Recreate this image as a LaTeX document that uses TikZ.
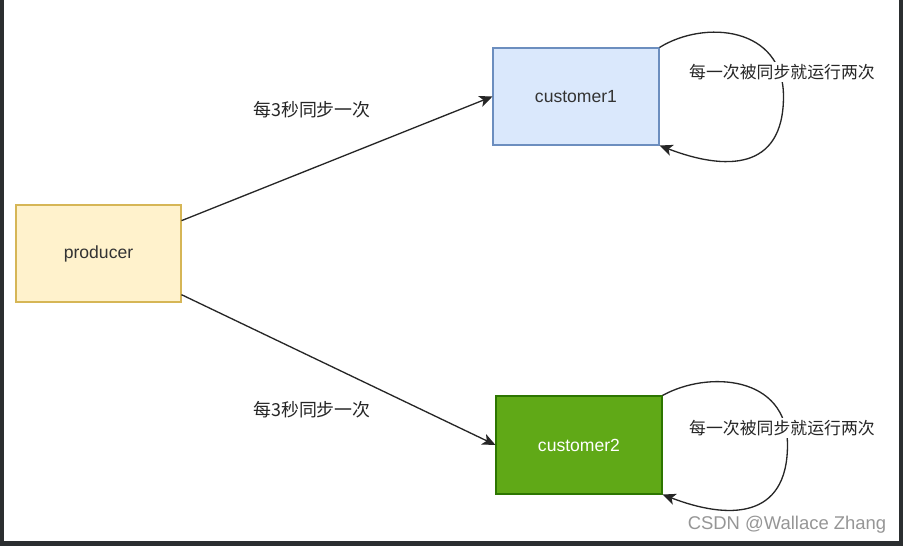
\documentclass[tikz,border=0pt]{standalone}
\usepackage{fontspec}
\setmainfont{Liberation Sans}
\newfontfamily\cjk{Noto Sans CJK SC}
\usepackage{tikz}
\usetikzlibrary{arrows.meta, calc}
\definecolor{myyellow}{RGB}{255,242,204}
\definecolor{myyellowline}{RGB}{214,182,86}
\definecolor{myblue}{RGB}{218,232,252}
\definecolor{myblueline}{RGB}{108,142,191}
\definecolor{mygreen}{RGB}{96,169,23}
\definecolor{mygreenline}{RGB}{45,118,0}
\definecolor{myframe}{RGB}{43,46,48}
\definecolor{mygray}{RGB}{150,150,150}

\begin{document}
\begin{tikzpicture}[x=0.02cm, y=-0.02cm,
    box/.style={draw, line width=0.6pt, minimum width=3.32cm, minimum height=1.94cm,
        inner sep=0pt, text=black!80, font=\fontsize{10}{12}\selectfont},
    link/.style={draw=black!85, line width=0.75pt, -{Stealth[length=7.5pt,width=6.5pt,inset=2pt]}},
    note/.style={text=black!85, inner sep=1pt, font=\fontsize{9.6}{12}\selectfont\cjk}]
    \useasboundingbox (0,0) rectangle (903,546);

    % Screenshot frame
    \fill[myframe] (0,0) rectangle (903,546);
    \fill[white] (4,0) rectangle (899,541);

    % Boxes
    \node[box, fill=myyellow, draw=myyellowline, minimum width=3.3cm] (producer) at (98.5,253.5) {producer};
    \node[box, fill=myblue, draw=myblueline] (customer1) at (576,96.5) {customer1};
    \node[box, fill=mygreen, draw=mygreenline, minimum height=1.96cm, text=white] (customer2) at (579,445) {customer2};

    % Sync arrows
    \draw[link] ($(producer.north east)!0.165!(producer.south east)$) -- (customer1.west);
    \draw[link] ($(producer.north east)!0.92!(producer.south east)$) -- (customer2.west);
    \node[note, font=\fontsize{10.2}{12}\selectfont\cjk] (sync1) at (312,110) {每3秒同步一次};
    \node[note, font=\fontsize{10.2}{12}\selectfont\cjk] (sync2) at (312,410) {每3秒同步一次};

    % Self loops
    \draw[link] (customer1.north east) .. controls +(45,-28) and +(0,-70) .. ([xshift=2.48cm]customer1.east)
        .. controls +(0,75) and +(65,25) .. (customer1.south east);
    \draw[link] (customer2.north east) .. controls +(45,-25) and +(0,-70) .. ([xshift=2.5cm]customer2.east)
        .. controls +(0,75) and +(65,25) .. (customer2.south east);
    \node[note, fill=white] (run1) at (782,72) {每一次被同步就运行两次};
    \node[note, fill=white] (run2) at (782,428) {每一次被同步就运行两次};

    % Watermark
    \node[mygray, font=\fontsize{10.5}{12}\selectfont] (mark) at (787,525) {CSDN @Wallace Zhang};
\end{tikzpicture}
\end{document}
